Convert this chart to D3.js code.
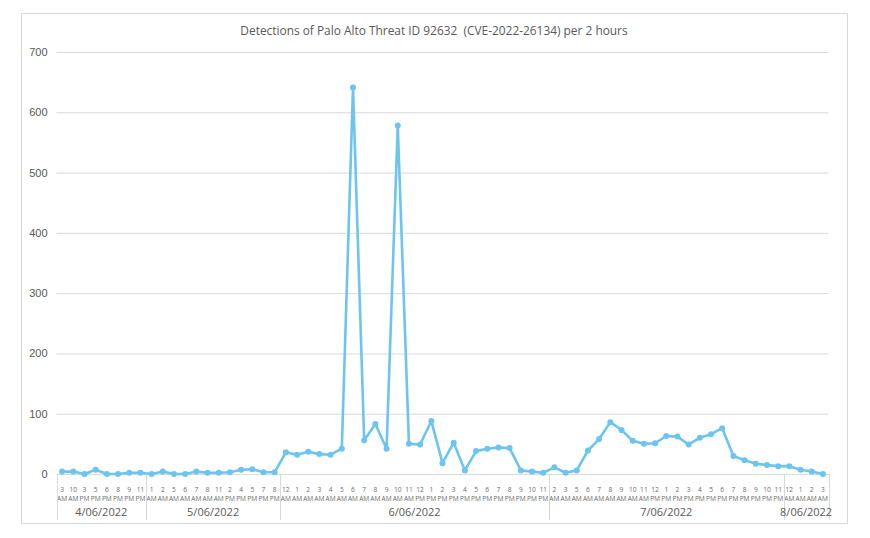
<!DOCTYPE html>
<html><head><meta charset="utf-8">
<script src="https://cdn.jsdelivr.net/npm/d3@7"></script>
<style>body{margin:0;background:#fff;}svg{display:block;font-family:"Open Sans","Noto Sans",sans-serif;}</style>
</head><body><svg id="c" width="870" height="538"></svg>
<script>
const title = "Detections of Palo Alto Threat ID 92632  (CVE-2022-26134) per 2 hours";
const dates = ["4/06/2022","5/06/2022","6/06/2022","7/06/2022","8/06/2022"];
const hours = [
  ["3 AM","10 AM","3 PM","5 PM","6 PM","8 PM","9 PM","11 PM"],
  ["1 AM","2 AM","5 AM","6 AM","7 AM","8 AM","11 AM","2 PM","4 PM","5 PM","7 PM","8 PM"],
  ["12 AM","1 AM","2 AM","3 AM","4 AM","5 AM","6 AM","7 AM","8 AM","9 AM","10 AM","11 AM",
   "12 PM","1 PM","2 PM","3 PM","4 PM","5 PM","6 PM","7 PM","8 PM","9 PM","10 PM","11 PM"],
  ["2 AM","3 AM","5 AM","6 AM","7 AM","8 AM","9 AM","10 AM","11 AM",
   "12 PM","1 PM","2 PM","3 PM","4 PM","5 PM","6 PM","7 PM","8 PM","9 PM","10 PM","11 PM"],
  ["12 AM","1 AM","2 AM","3 AM"]
];
const values = [
  [4,4,0,7,0,0,2,2],
  [0,4,0,0,4,2,2,3,7,8,3,3],
  [36,32,37,33,32,42,641,56,83,42,578,50,49,88,18,52,6,38,42,44,43,6,4,2],
  [11,2,6,39,58,86,73,55,50,51,63,62,49,60,66,76,30,23,17,15,13],
  [13,7,4,0]
];
const yTicks = [0,100,200,300,400,500,600,700];

const data = [];
hours.forEach((hs,d)=>hs.forEach((h,i)=>data.push({key:d+"|"+i, day:d, label:h, value:values[d][i]})));

const svg = d3.select("#c");
const L = 56.5, R = 828.5, T = 52, B = 474;
const color = "#6cc4ef", textCol = "#595959";

svg.append("rect").attr("x",21.5).attr("y",13.5).attr("width",826).attr("height",510)
  .attr("fill","#fff").attr("stroke","#d9d9d9");

svg.append("text").attr("x",434).attr("y",35).attr("text-anchor","middle")
  .style("white-space","pre").attr("font-size",11.9).attr("fill",textCol).text(title);

const x = d3.scaleBand().domain(data.map(d=>d.key)).range([L,R]);
const y = d3.scaleLinear().domain([0,700]).range([B,T]);

const yAxis = svg.append("g").attr("transform",`translate(${L},0)`)
  .call(d3.axisLeft(y).tickValues(yTicks).tickSize(-(R-L)).tickPadding(9));
yAxis.select(".domain").remove();
yAxis.selectAll(".tick line").attr("stroke","#d9d9d9");
yAxis.selectAll(".tick text").attr("font-size",11).attr("fill",textCol);

// x axis: hour labels
const xg = svg.append("g").attr("transform",`translate(0,${B})`)
  .call(d3.axisBottom(x).tickSize(0).tickFormat(""));
xg.select(".domain").attr("stroke","#d9d9d9");
const tl = svg.append("g");
data.forEach(d=>{
  const cx = x(d.key)+x.bandwidth()/2;
  const [n,ap] = d.label.split(" ");
  const t = tl.append("text").attr("text-anchor","middle").attr("font-size",6.6).attr("fill","#6a6a6a");
  t.append("tspan").attr("x",cx).attr("y",492).text(n);
  t.append("tspan").attr("x",cx).attr("y",501).text(ap);
});
// group separators and date labels
let idx = 0;
const bw = x.bandwidth();
const bounds = [0];
hours.forEach(hs=>{idx += hs.length; bounds.push(idx);});
bounds.forEach(b=>{
  const xx = Math.round(L + b*bw) + 0.5;
  svg.append("line").attr("x1",xx).attr("x2",xx).attr("y1",B).attr("y2",520)
    .attr("stroke","#d9d9d9");
});
dates.forEach((dt,i)=>{
  const x0 = L + bounds[i]*bw, x1 = L + bounds[i+1]*bw;
  svg.append("text").attr("x",(x0+x1)/2).attr("y",516).attr("text-anchor","middle")
    .attr("font-size",11).attr("fill",textCol).text(dt);
});

const line = d3.line().x(d=>x(d.key)+bw/2).y(d=>y(d.value));
svg.append("path").datum(data).attr("d",line).attr("fill","none")
  .attr("stroke",color).attr("stroke-width",2.6).attr("stroke-linejoin","round");
svg.append("g").selectAll("circle").data(data).join("circle")
  .attr("cx",d=>x(d.key)+bw/2).attr("cy",d=>y(d.value)).attr("r",3).attr("fill",color);
</script></body></html>
